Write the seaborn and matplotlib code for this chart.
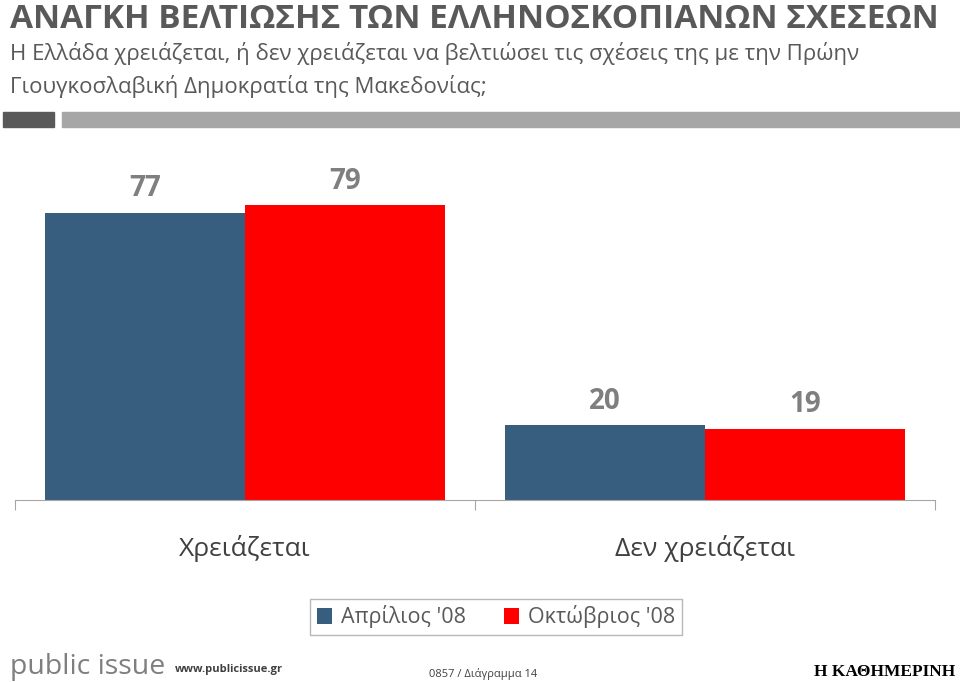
import pandas as pd
import seaborn as sns
import matplotlib.pyplot as plt
from matplotlib.patches import Rectangle

# Chart data
categories = ['Χρειάζεται', 'Δεν χρειάζεται']
periods = ["Απρίλιος '08", "Οκτώβριος '08"]
april_values = [77, 20]
october_values = [79, 19]

colors = ['#375D7F', '#FF0000']
grey_text = '#595959'

df = pd.DataFrame({
    'answer': categories * 2,
    'period': [periods[0]] * 2 + [periods[1]] * 2,
    'value': april_values + october_values,
})

sns.set_style('white')
plt.rcParams['font.family'] = ['Open Sans', 'DejaVu Sans']

fig = plt.figure(figsize=(9.6, 6.82), dpi=100)
ax = fig.add_axes([15 / 960, 1 - 500 / 682, 920 / 960, 373 / 682])

sns.barplot(data=df, x='answer', y='value', hue='period', palette=colors,
            width=0.87, saturation=1, linewidth=0, ax=ax)

ax.set_ylim(0, 100)
ax.set_xlim(-0.5, 1.5)
ax.set_xlabel('')
ax.set_ylabel('')
ax.set_yticks([])

# value labels
for cont in ax.containers:
    ax.bar_label(cont, fmt='%d', padding=7, fontsize=20, fontweight='bold', color='#7F7F7F')

# category labels + boundary tick marks
ax.set_xticks([0, 1])
ax.set_xticklabels(categories, fontsize=19, color='#404040')
ax.tick_params(axis='x', which='major', length=0, pad=25)
ax.set_xticks([-0.5, 0.5, 1.5], minor=True)
ax.tick_params(axis='x', which='minor', length=7, width=0.8, color='#A6A6A6', bottom=True)

for s in ['left', 'top', 'right']:
    ax.spines[s].set_visible(False)
ax.spines['bottom'].set_color('#A6A6A6')
ax.spines['bottom'].set_linewidth(0.8)

# legend
sns.move_legend(ax, loc='center', bbox_to_anchor=(496 / 960, 1 - 617 / 682),
                bbox_transform=fig.transFigure, ncol=2, title=None, frameon=True,
                fontsize=15.5, handlelength=0.7, handleheight=0.7, handletextpad=0.4,
                columnspacing=1.8, fancybox=False, borderpad=0.3, borderaxespad=0)
leg = ax.get_legend()
leg.get_frame().set_edgecolor('#A6A6A6')
leg.get_frame().set_linewidth(1)
leg._legend_box.sep = 5
for t in leg.get_texts():
    t.set_color(grey_text)

# header
fig.text(10 / 960, 1 - 28 / 682, 'ΑΝΑΓΚΗ ΒΕΛΤΙΩΣΗΣ ΤΩΝ ΕΛΛΗΝΟΣΚΟΠΙΑΝΩΝ ΣΧΕΣΕΩΝ',
         fontsize=24, fontweight='bold', color=grey_text, va='baseline')
fig.text(10 / 960, 1 - 60 / 682,
         'Η Ελλάδα χρειάζεται, ή δεν χρειάζεται να βελτιώσει τις σχέσεις της με την Πρώην',
         fontsize=16, color=grey_text, va='baseline')
fig.text(10 / 960, 1 - 93 / 682, 'Γιουγκοσλαβική Δημοκρατία της Μακεδονίας;',
         fontsize=16, color=grey_text, va='baseline')
fig.patches.append(Rectangle((3 / 960, 1 - 127 / 682), 51 / 960, 15 / 682,
                             transform=fig.transFigure, color='#595959'))
fig.patches.append(Rectangle((62 / 960, 1 - 127 / 682), 898 / 960, 15 / 682,
                             transform=fig.transFigure, color='#A6A6A6'))

# footer
fig.text(10 / 960, 1 - 674 / 682, 'public issue', fontsize=20.5, color='#7F7F7F', va='baseline')
fig.text(175 / 960, 1 - 672 / 682, 'www.publicissue.gr', fontsize=8, fontweight='bold',
         color='#404040', va='baseline')
fig.text(483 / 960, 1 - 677 / 682, '0857 / Διάγραμμα 14', fontsize=8, color='#404040',
         va='baseline', ha='center')
fig.text(955 / 960, 1 - 676 / 682, 'Η ΚΑΘΗΜΕΡΙΝΗ', fontsize=12.5, color='black',
         fontweight='bold', family=['Liberation Serif', 'DejaVu Serif'],
         va='baseline', ha='right')

plt.savefig('out.png', dpi=100)
